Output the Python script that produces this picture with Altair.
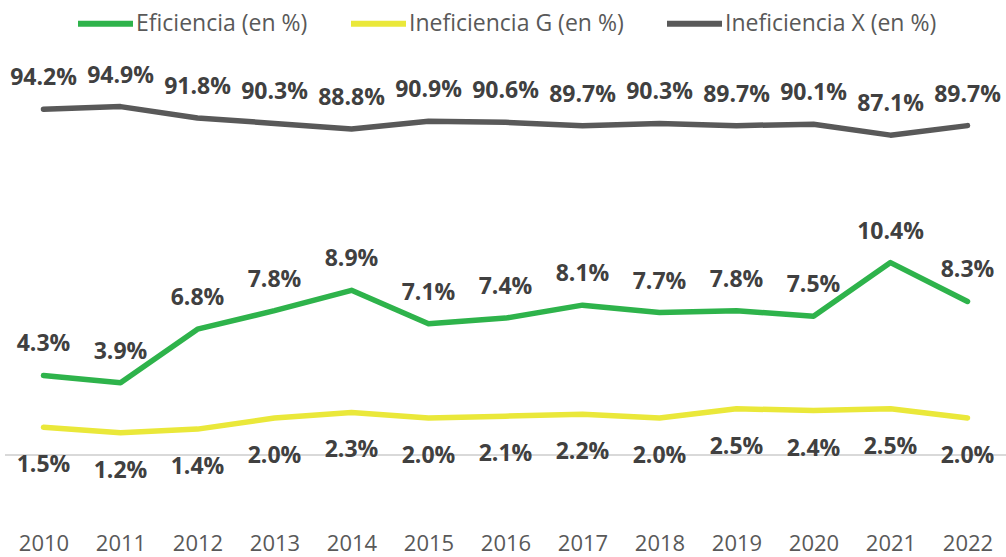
import altair as alt
import pandas as pd

years = ["2010", "2011", "2012", "2013", "2014", "2015", "2016",
         "2017", "2018", "2019", "2020", "2021", "2022"]
eficiencia = [4.3, 3.9, 6.8, 7.8, 8.9, 7.1, 7.4, 8.1, 7.7, 7.8, 7.5, 10.4, 8.3]
inef_g = [1.5, 1.2, 1.4, 2.0, 2.3, 2.0, 2.1, 2.2, 2.0, 2.5, 2.4, 2.5, 2.0]
inef_x = [94.2, 94.9, 91.8, 90.3, 88.8, 90.9, 90.6, 89.7, 90.3, 89.7, 90.1, 87.1, 89.7]

series_names = ["Eficiencia (en %)", "Ineficiencia G (en %)", "Ineficiencia X (en %)"]
series_colors = ["#2EB34B", "#EAE83A", "#595959"]

rows = []
for name, vals in zip(series_names, [eficiencia, inef_g, inef_x]):
    for y, v in zip(years, vals):
        rows.append({"year": y, "serie": name, "value": v})
df = pd.DataFrame(rows)

FONT = "Open Sans"

color = alt.Color(
    "serie:N",
    scale=alt.Scale(domain=series_names, range=series_colors),
    legend=alt.Legend(
        title=None, orient="none", legendX=70, legendY=-92,
        direction="horizontal", symbolType="stroke", symbolSize=3025,
        symbolStrokeWidth=6, labelFont=FONT, labelFontSize=23,
        labelColor="#595959", labelOffset=0, columnPadding=31,
        padding=0, labelLimit=400,
    ),
)

x_enc = alt.X(
    "year:O", title=None,
    axis=alt.Axis(labelAngle=0, domain=False, ticks=False, grid=False,
                  labelFont=FONT, labelFontSize=22, labelColor="#595959",
                  labelPadding=4),
)

base = alt.Chart(df).transform_calculate(
    label="format(datum.value, '.1f') + '%'", zero="0"
)

prim_scale = alt.Scale(domain=[-4, 20])
y_primary = alt.Y("value:Q", scale=prim_scale, axis=None)
y_secondary = alt.Y("value:Q", scale=alt.Scale(domain=[-20.5, 100.8]), axis=None)

zero_rule = base.transform_filter(alt.datum.serie == series_names[0]).mark_rule(
    color="#D9D9D9", strokeWidth=2
).encode(y=alt.Y("zero:Q", scale=prim_scale, axis=None))

prim = base.transform_filter(alt.FieldOneOfPredicate(field="serie", oneOf=series_names[:2]))

prim_lines = prim.mark_line(strokeWidth=5.5, strokeCap="round", strokeJoin="round").encode(
    x=x_enc, y=y_primary, color=color
)
efi_text = base.transform_filter(alt.datum.serie == series_names[0]).mark_text(
    font=FONT, fontSize=23, fontWeight="bold", color="#404040", dy=-31
).encode(x=x_enc, y=y_primary, text="label:N")
g_text = base.transform_filter(alt.datum.serie == series_names[1]).mark_text(
    font=FONT, fontSize=23, fontWeight="bold", color="#404040", dy=38
).encode(x=x_enc, y=y_primary, text="label:N")

primary_layer = alt.layer(zero_rule, prim_lines, efi_text, g_text)

sec = base.transform_filter(alt.datum.serie == series_names[2])
x_line = sec.mark_line(strokeWidth=5.5, strokeCap="round", strokeJoin="round").encode(
    x=x_enc, y=y_secondary, color=color
)
x_text = sec.mark_text(
    font=FONT, fontSize=23, fontWeight="bold", color="#404040", dy=-31
).encode(x=x_enc, y=y_secondary, text="label:N")
secondary_layer = alt.layer(x_line, x_text)

chart = alt.layer(primary_layer, secondary_layer).resolve_scale(
    y="independent"
).properties(
    width=1001, height=444,
    autosize=alt.AutoSizeParams(type="none"),
    padding={"left": 5, "top": 85, "right": 0, "bottom": 28},
    background="white",
).configure_view(stroke=None)

chart.save("out.html", embed_options={"renderer": "svg", "actions": False})
